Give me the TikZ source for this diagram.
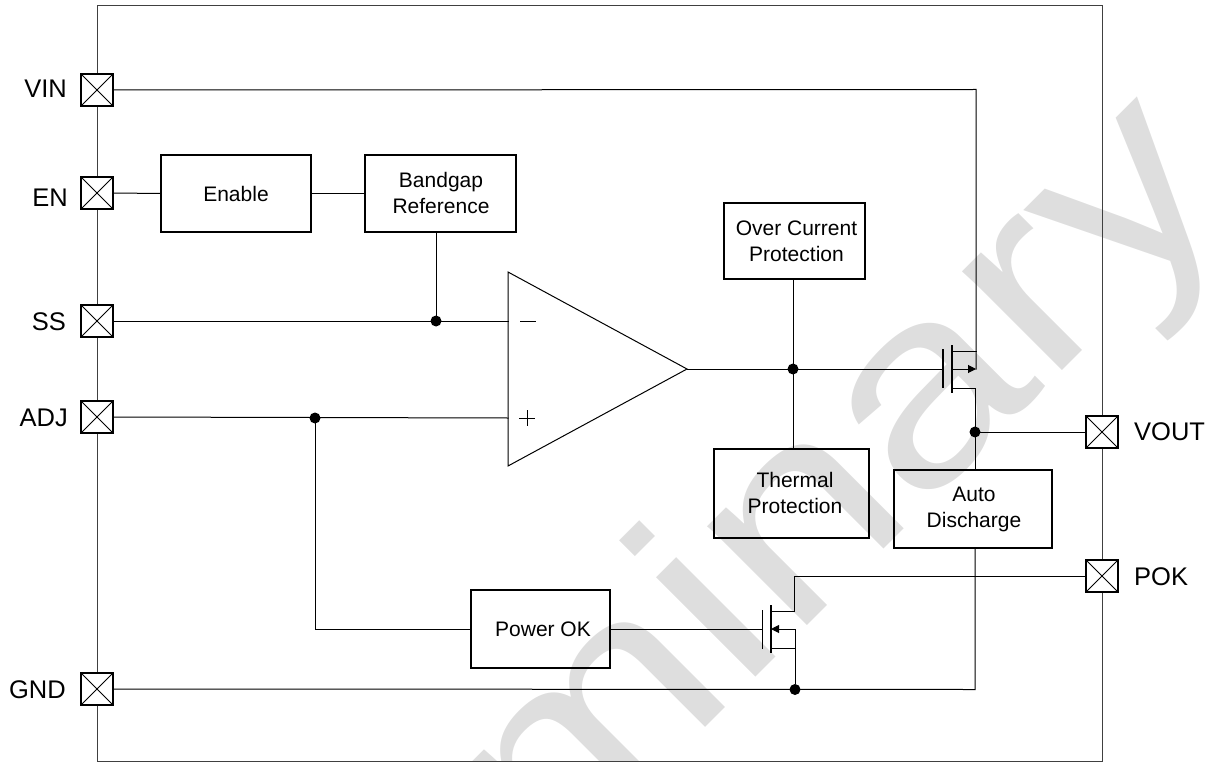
\documentclass[tikz,border=0pt]{standalone}
\usepackage{fontspec}
\setmainfont{Liberation Sans}
\usetikzlibrary{arrows.meta}
\definecolor{wm}{HTML}{DEDEDE}
\tikzset{
  x=1pt,y=-1pt,
  wire/.style={line width=1pt,line cap=rect},
  frameline/.style={line width=0.9pt,draw=black!75},
  blockbox/.style={draw,line width=1.2pt,inner sep=0pt},
  blocktext/.style={inner sep=0pt,align=center,font=\fontsize{21}{25.5}\selectfont},
  pinbox/.style={draw,line width=1.2pt,fill=white,minimum width=32pt,minimum height=32pt,inner sep=0pt,
    path picture={\draw[line width=0.8pt] (path picture bounding box.north west)--(path picture bounding box.south east)
      (path picture bounding box.north east)--(path picture bounding box.south west);}},
  pinlabel/.style={font=\fontsize{25.5}{30}\selectfont,inner sep=0pt},
  junction/.style={circle,fill=black,minimum size=11pt,inner sep=0pt},
  plate/.style={line width=1.1pt},
  tip/.style={-{Triangle[length=8pt,width=8pt]}},
}
\begin{document}
\begin{tikzpicture}
\useasboundingbox (0,0) rectangle (1220,762);
\begin{scope}
\clip (0,0) rectangle (1220,762);
\node[rotate=45,xscale=1.22,anchor=base east,text=wm,font=\fontsize{266}{266}\selectfont,inner sep=0pt] (wmark) at (1238,195) {Preliminary};
\end{scope}
% frame
\draw[frameline] (97.5,5) -- (1102,5) -- (1102,761.5) -- (97.5,761.5) -- cycle;
% pins
\node[pinbox] (vin) at (97,90) {};
\node[pinbox] (en) at (97,193) {};
\node[pinbox] (ss) at (97,321) {};
\node[pinbox] (adj) at (97,417) {};
\node[pinbox] (gnd) at (97,689) {};
\node[pinbox] (vout) at (1102,432) {};
\node[pinbox] (pok) at (1102,576) {};
\node[pinlabel,anchor=base east] (lvin) at (67,98) {VIN};
\node[pinlabel,anchor=base east] (len) at (68,207) {EN};
\node[pinlabel,anchor=base east] (lss) at (66,330) {SS};
\node[pinlabel,anchor=base east] (ladj) at (68,426) {ADJ};
\node[pinlabel,anchor=base east] (lgnd) at (66,698) {GND};
\node[pinlabel,anchor=base west] (lvout) at (1134,440) {VOUT};
\node[pinlabel,anchor=base west] (lpok) at (1134,585) {POK};
% blocks
\node[blockbox,minimum width=150pt,minimum height=77pt] (enable) at (236,193.5) {};
\node[blocktext] (tenable) at (236,194) {Enable};
\node[blockbox,minimum width=151pt,minimum height=77pt] (bg) at (440.5,193.5) {};
\node[blocktext] (tbg) at (441,193) {Bandgap\\Reference};
\node[blockbox,minimum width=141pt,minimum height=76pt] (ocp) at (794.5,241) {};
\node[blocktext] (tocp) at (796.5,241.5) {Over Current\\Protection};
\node[blockbox,minimum width=155pt,minimum height=89pt] (tp) at (791.5,493.5) {};
\node[blocktext] (ttp) at (795,493) {Thermal\\Protection};
\node[blockbox,minimum width=158pt,minimum height=78pt] (ad) at (973,509) {};
\node[blocktext] (tad) at (974,509.5) {Auto\\Discharge};
\node[blockbox,minimum width=139pt,minimum height=78pt] (pg) at (540.5,629) {};
\node[blocktext] (tpg) at (543,629) {Power OK};
% amplifier
\coordinate (ampT) at (508,272);
\coordinate (ampB) at (508,466);
\coordinate (ampO) at (687,369);
\coordinate (ampN) at (508,321);
\coordinate (ampP) at (508,418);
\draw[line width=1pt,line join=miter] (ampT) -- (ampO) -- (ampB) -- cycle;
\draw[line width=1pt] (520,321) -- (536,321) (519,418) -- (535,418) (527,410) -- (527,426);
% junctions
\node[junction] (jss) at (436,321) {};
\node[junction] (jadj) at (315,418) {};
\node[junction] (jo) at (793,369) {};
\node[junction] (jv) at (975,432) {};
\node[junction] (jg) at (795,689.5) {};
% pass transistor
\coordinate (pgate) at (943,369);
\coordinate (pd) at (952,351);
\coordinate (pm) at (952,369);
\coordinate (ps) at (952,388);
\coordinate (prail) at (976,89.5);
\coordinate (prailm) at (976,369);
\coordinate (pdc) at (976,351);
\coordinate (psc) at (975,388);
\draw[plate] (943,349) -- (943,388);
\draw[plate] (952,345) -- (952,393);
\draw[wire] (pd) -- (pdc);
\draw[wire] (ps) -- (psc) -- (jv);
\draw[wire,tip] (pm) -- (prailm);
% pok transistor
\coordinate (ngate) at (762.5,629);
\coordinate (nd) at (771,611);
\coordinate (nm) at (771,629);
\coordinate (ns) at (771,648);
\coordinate (ndc) at (794,611);
\coordinate (ndt) at (794,576);
\coordinate (nmc) at (795,629);
\coordinate (nsc) at (795,648);
\draw[plate] (762.5,610) -- (762.5,649);
\draw[plate] (771,605) -- (771,653);
\draw[wire] (nd) -- (ndc) -- (ndt) -- (pok.west);
\draw[wire,tip] (nmc) -- (nm);
\draw[wire] (ns) -- (nsc);
\draw[wire] (nmc) -- (jg);
% wires
\draw[wire] (vin.east) -- (prail) -- (prailm);
\draw[wire] (en.east) -- (enable.west);
\draw[wire] (enable.east) -- (bg.west);
\draw[wire] (jss |- bg.south) -- (jss);
\draw[wire] (ss.east) -- (ampN);
\draw[wire] (adj.east) -- (ampP);
\draw[wire] (jadj) |- (pg.west);
\draw[wire] (pg.east) -- (ngate);
\draw[wire] (ampO) -- (pgate);
\draw[wire] (jo |- ocp.south) -- (jo);
\draw[wire] (jo) -- (jo |- tp.north);
\draw[wire] (jv) -- (vout.west);
\draw[wire] (jv) -- (jv |- ad.north);
\draw[wire] (gnd.east) -- (975,689.5) -- (975,548);
\end{tikzpicture}
\end{document}
